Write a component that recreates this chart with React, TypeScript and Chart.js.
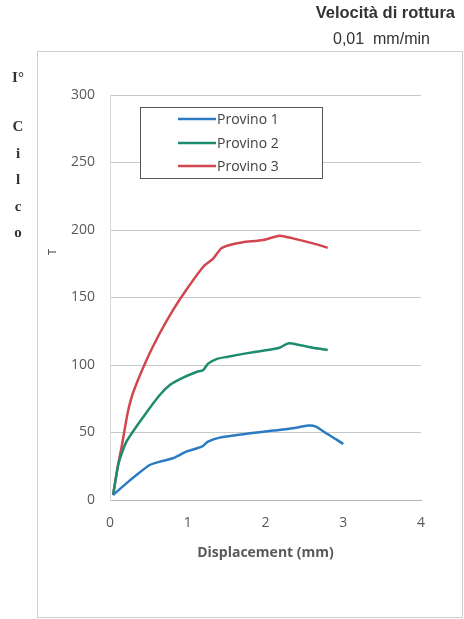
import React, { useEffect, useRef } from "react";
import { Chart, registerables } from "chart.js";

Chart.register(...registerables);

const seriesNames = ["Provino 1", "Provino 2", "Provino 3"];
const seriesColors = ["#2b7bc4", "#1d8c6e", "#d2464f"];

const p1X = [0.04, 0.21, 0.34, 0.51, 0.64, 0.81, 0.98, 1.18, 1.26, 1.41, 1.63, 1.8, 2.1, 2.35, 2.55, 2.65, 2.78, 2.91, 3.0];
const p1Y = [3.7, 12.3, 18.5, 25.9, 28.4, 30.9, 35.8, 39.5, 43.2, 46.2, 48.1, 49.4, 51.4, 53.1, 55.1, 54.3, 49.4, 44.9, 41.5];

const p2X = [0.04, 0.11, 0.21, 0.43, 0.64, 0.77, 0.94, 1.12, 1.2, 1.26, 1.37, 1.5, 1.75, 1.97, 2.18, 2.29, 2.44, 2.61, 2.8];
const p2Y = [3.7, 27, 43, 61.7, 77.8, 85.2, 90.6, 95, 96.3, 101, 104.4, 106, 108.6, 110.6, 112.8, 116, 114.8, 112.8, 111.1];

const p3X = [0.04, 0.1, 0.15, 0.2, 0.235, 0.3, 0.47, 0.64, 0.81, 0.98, 1.2, 1.33, 1.43, 1.54, 1.71, 1.97, 2.18, 2.35, 2.61, 2.8];
const p3Y = [3.7, 25, 39.5, 56, 66.7, 80, 103.7, 123.5, 140.7, 155.6, 172.8, 179, 186.4, 188.9, 190.9, 192.6, 195.8, 193.8, 190.1, 186.9];

const xTicks = [0, 1, 2, 3, 4];
const yTicks = [0, 50, 100, 150, 200, 250, 300];

const sideLetters = ["C", "i", "l", "c", "o"];

const toPoints = (xs: number[], ys: number[]) => xs.map((x, i) => ({ x, y: ys[i] }));

const legendPlugin = {
  id: "boxLegend",
  afterDraw(chart: any) {
    const ctx = chart.ctx;
    ctx.save();
    const bx = 140.5, by = 107.5, bw = 182, bh = 71;
    ctx.fillStyle = "#ffffff";
    ctx.fillRect(bx, by, bw, bh);
    ctx.strokeStyle = "#555555";
    ctx.lineWidth = 1;
    ctx.strokeRect(bx, by, bw, bh);
    const rows = [119, 143, 166];
    chart.data.datasets.forEach((ds: any, i: number) => {
      ctx.strokeStyle = ds.borderColor;
      ctx.lineWidth = 2.5;
      ctx.beginPath();
      ctx.moveTo(178, rows[i]);
      ctx.lineTo(216, rows[i]);
      ctx.stroke();
      ctx.fillStyle = "#404040";
      ctx.font = "14px 'Open Sans'";
      ctx.textBaseline = "middle";
      ctx.textAlign = "left";
      ctx.fillText(ds.label, 217, rows[i] + 1);
    });
    ctx.restore();
  },
};

export default function App() {
  const canvasRef = useRef<HTMLCanvasElement | null>(null);

  useEffect(() => {
    if (!canvasRef.current) return;
    const chart = new Chart(canvasRef.current, {
      type: "line",
      data: {
        datasets: [
          { label: seriesNames[0], data: toPoints(p1X, p1Y), borderColor: seriesColors[0] },
          { label: seriesNames[1], data: toPoints(p2X, p2Y), borderColor: seriesColors[1] },
          { label: seriesNames[2], data: toPoints(p3X, p3Y), borderColor: seriesColors[2] },
        ].map((d) => ({
          ...d,
          backgroundColor: d.borderColor,
          borderWidth: 2.5,
          pointRadius: 0,
          tension: 0.2,
          fill: false,
        })),
      },
      options: {
        animation: false,
        responsive: false,
        layout: { padding: { left: 0, right: 43, top: 95, bottom: 0 } },
        plugins: { legend: { display: false }, tooltip: { enabled: false } },
        scales: {
          x: {
            type: "linear",
            min: 0,
            max: 4,
            afterFit: (s: any) => {
              s.height = 119;
            },
            afterBuildTicks: (s: any) => {
              s.ticks = xTicks.map((v) => ({ value: v }));
            },
            grid: { display: false, drawTicks: false },
            border: { display: true, color: "#b5b5b5", width: 1 },
            ticks: {
              padding: 15,
              color: "#595959",
              font: { family: "'Open Sans'", size: 14 },
              maxRotation: 0,
            },
            title: {
              display: true,
              text: "Displacement (mm)",
              color: "#595959",
              font: { family: "'Open Sans'", size: 14, weight: "bold" },
              padding: { top: 0, bottom: 58 },
            },
          },
          y: {
            type: "linear",
            min: 0,
            max: 300,
            afterFit: (s: any) => {
              s.width = 110;
            },
            afterBuildTicks: (s: any) => {
              s.ticks = yTicks.map((v) => ({ value: v }));
            },
            grid: { display: true, drawTicks: false, color: "#c8c8c8", lineWidth: 1 },
            border: { display: true, color: "#d8d8d8", width: 1 },
            ticks: {
              padding: 15,
              color: "#595959",
              font: { family: "'Open Sans'", size: 14 },
            },
          },
        },
      },
      plugins: [legendPlugin],
    });
    return () => chart.destroy();
  }, []);

  return (
    <div
      style={{
        position: "fixed",
        left: 0,
        top: 0,
        width: 464,
        height: 619,
        background: "#ffffff",
        overflow: "hidden",
      }}
    >
      <div
        style={{
          position: "absolute",
          left: 37,
          top: 51,
          width: 424,
          height: 565,
          border: "1px solid #cfcfcf",
        }}
      />
      <canvas
        ref={canvasRef}
        width={464}
        height={619}
        style={{ position: "absolute", left: 0, top: 0, width: 464, height: 619 }}
      />
      <div
        style={{
          position: "absolute",
          right: 9,
          top: 3,
          fontFamily: "'Liberation Sans', Arial, sans-serif",
          fontWeight: "bold",
          fontSize: 16.5,
          color: "#333",
          whiteSpace: "pre",
        }}
      >
        Velocità di rottura
      </div>
      <div
        style={{
          position: "absolute",
          left: 333,
          top: 30,
          fontFamily: "'Liberation Sans', Arial, sans-serif",
          fontSize: 16,
          color: "#333",
          whiteSpace: "pre",
        }}
      >
        {"0,01  mm/min"}
      </div>
      <div
        style={{
          position: "absolute",
          left: 46,
          top: 245,
          width: 12,
          height: 14,
          lineHeight: "14px",
          textAlign: "center",
          transform: "rotate(-90deg)",
          fontFamily: "'Open Sans', sans-serif",
          fontSize: 11,
          color: "#404040",
        }}
      >
        T
      </div>
      <div
        style={{
          position: "absolute",
          left: 4,
          top: 68,
          width: 28,
          textAlign: "center",
          fontFamily: "'Liberation Serif', serif",
          fontWeight: "bold",
          fontSize: 15,
          color: "#333",
          lineHeight: "18px",
        }}
      >
        I°
      </div>
      {sideLetters.map((ch, i) => (
        <div
          key={i}
          style={{
            position: "absolute",
            left: 4,
            top: 117 + i * 26.5,
            width: 28,
            textAlign: "center",
            fontFamily: "'Liberation Serif', serif",
            fontWeight: "bold",
            fontSize: 15,
            color: "#333",
            lineHeight: "18px",
          }}
        >
          {ch}
        </div>
      ))}
    </div>
  );
}
